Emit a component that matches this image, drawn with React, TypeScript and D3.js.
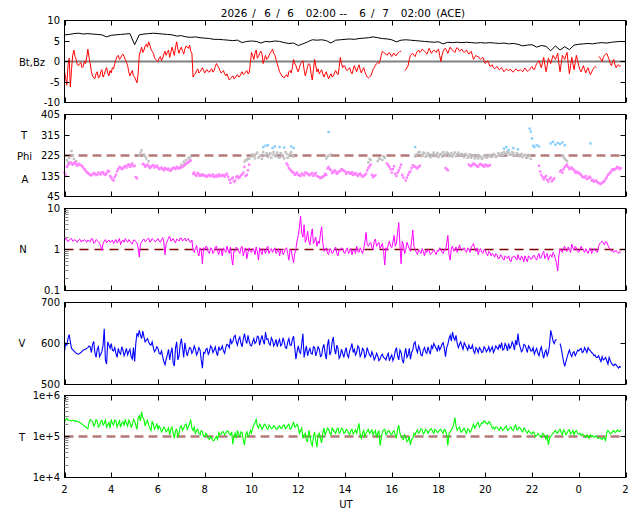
import React from "react";
import * as d3 from "d3";

// ---------- data ----------
const T_START = 2; // hours UT, 2026-06-06 02:00
const STEP = 0.1; // hours between samples of the main series
const BT_STEP = 0.2;

const HOUR_TICKS = [2, 4, 6, 8, 10, 12, 14, 16, 18, 20, 22, 24, 26];
const BZ_TICKS = [-10, -5, 0, 5, 10];
const PHI_TICKS = [45, 135, 225, 315, 405];
const N_TICKS = [0.1, 1, 10];
const V_TICKS = [500, 600, 700];
const T_TICKS = [1e4, 1e5, 1e6];
const T_TICK_LABELS = ["1e+4", "1e+5", "1e+6"];

const TITLE_PARTS: [string, number][] = [
  ["2026 ", 220.8], ["/ ", 252.3], ["6 ", 264.2], ["/ ", 276.3], ["6 ", 287.2],
  ["02:00 ", 305.8], ["-- ", 339.6], ["6 ", 359.2], ["/ ", 371.0], ["7 ", 382.2],
  ["02:00 ", 400.8], ["(ACE)", 436.2],
];

const BT = [
  6.5, 6.6, 6.8, 6.9, 6.7, 6.8, 6.7, 6.6, 6.5, 6.0,
  6.4, 6.5, 6.6, 6.7, 6.8, 4.1, 6.5, 6.7, 6.8, 6.9,
  6.8, 6.7, 6.6, 6.5, 6.2, 6.3, 6.0, 5.9, 6.0, 5.8,
  5.7, 5.6, 5.4, 5.4, 5.3, 5.2, 5.1, 5.2, 4.6, 4.9,
  5.0, 4.9, 4.5, 4.9, 4.8, 5.0, 4.9, 4.6, 4.4, 4.5,
  3.9, 4.3, 4.8, 5.3, 5.2, 5.3, 5.1, 4.5, 5.2, 5.3,
  5.4, 5.5, 5.4, 5.6, 5.7, 5.8, 6.0, 5.8, 5.6, 5.5,
  5.3, 4.8, 5.2, 5.3, 5.2, 5.1, 5.0, 4.9, 4.8, 4.7,
  4.8, 4.3, 4.7, 4.6, 4.7, 4.6, 4.7, 4.6, 4.5, 4.6,
  4.5, 4.6, 4.5, 4.4, 4.5, 4.3, 4.4, 4.2, 3.8, 4.0,
  4.1, 3.5, 3.9, 3.7, 2.6, 3.8, 2.8, 3.6, 2.9, 4.0,
  4.2, 4.3, 4.4, 4.3, 4.5, 4.6, 4.5, 4.7, 4.8, 4.9,
];

// Bz at 2.0, 2.1, ... and the in-between samples at 2.05, 2.15, ...
const BZ: (number | null)[] = [
  -2.5, -5.8, 0.8, -2, 2.8, 0.5, -1, -0.3, -1.2, -0.5,
  3, -0.5, -3.5, -4.2, -2.5, -3.8, -2, -3.2, -1.5, -3.5,
  -2.8, -1.8, 0.5, 1.5, 0.8, 1.8, 0.5, -1, -3.5, -2.2,
  -3.8, -5.2, 1.5, 3.5, 2.8, 4.2, 4.8, 3, 2, 0.5,
  0, 1.2, 0.8, 2.5, 2.2, 1, 3.5, 1.5, 4.8, 2,
  3.5, 1.8, 3.8, 3.2, 2.5, -3.8, -3, -1.8, -2.5, -1.5,
  -2.8, -2, -2.6, -1.8, -2.2, -0.5, -1.5, -2.8, -2.2, -3.5,
  -3.8, -4.2, -3.5, -4, -3.2, -3.6, -2.5, -3, -2.2, -2.8,
  2.2, 0.5, 2.8, 1.2, 2.5, -0.5, 1.5, 0.8, 2, 3,
  1.5, -0.5, -2.5, -3.5, -4, -3.2, -2.5, -2.8, 0.5, -1,
  -2.5, -0.5, 0.2, -3.5, -1.2, -0.8, -4.5, 0.5, -2.5, -3,
  -2, -3.8, -2.5, -4.2, -3, -3.5, -2.2, -3.2, 1, -1.5,
  -1.2, -2.2, -1.5, -3, -1, -2.5, -0.8, -2.8, -1.5, -3.2,
  -4, -3.5, -2, -1, -0.2, 0.2, 2.5, 2, 1.5, 2.2,
  1.2, 2, 1.5, 2.2, 2.5, null, -2, -1, 1.5, 2,
  1.2, 2.5, 2.2, 3, 2.5, 1.8, 3.2, 2, 2.8, 2.2,
  3, 0, 2.5, 3.2, 2, 3.5, 2.8, 2.2, 3.4, 2.5,
  3, 2.2, 2.8, 1.8, 2.5, 0.5, 1.5, 1.2, 0.5, 1,
  -0.5, 0.2, -1.2, -0.8, -1.8, -1.2, -2, -1.5, -2.5, -1.8,
  -2.2, -2, -2.6, -1.8, -2.3, -2, -2.5, -1.6, -2.4, -2,
  -1.2, -2, -0.5, 0.2, -1.5, 1, -2.5, 0.8, -0.5, 1.5,
  0.5, 2, -2.5, 1.5, 0.5, 2.2, -3, 1, -2, 1.5,
  -1, -2.5, -1, -2.8, -1.5, -3.2, -2, -1.2, null, 1,
  0, 1.5, 2, 0.5, -1, 0.5, -1.5, -0.8, -1,
];
const BZ_MID: (number | null)[] = [
  -4, -1, -6.2, 1.5, 1.2, -0.8, -0.5, -1.5, 0, 1,
  1, -2.5, -4, -3, -4, -2.5, -3.8, -2.2, -2.8, -2.2,
  -1.5, -0.5, 1.2, 0.5, 1.5, 1.2, -0.2, -2.5, -2.8, -3.5,
  -4.5, -3, 2.5, 2.2, 3.8, 3.5, 4, 2.5, 1, 0.2,
  0.8, 0.2, 1.8, 1.5, 2.8, 2.2, 2.5, 3.5, 3, 3,
  2.5, 3, 3.5, 4, 2, -3.2, -2.2, -2.8, -2, -2.2,
  -2.2, -2.5, -2, -2.6, -1.2, -1, -2.2, -2.5, -3, -3,
  -4.5, -3.8, -4.2, -3.5, -3.8, -3, -3.2, -2.5, -3, -0.5,
  1.5, 2, 0.8, 2, 1.8, 0.5, 0.5, 1.5, 2.5, 2,
  0.5, -1.5, -3, -3.8, -3.5, -3.8, -2.2, -1.5, -0.5, -2,
  -1.5, -0.2, -2, -2.5, -0.5, -3, -2, -1, -1.8, -2.5,
  -3, -3, -3.5, -3.5, -3.8, -2.8, -2.8, -1.5, -0.5, -1,
  -2, -1.8, -2.5, -2, -1.8, -1.5, -2, -2, -2.5, -3.8,
  -3.8, -2.8, -1.5, -0.5, -0.5, 1.5, 2.2, 1.8, 2, 1.6,
  1.8, 1.5, 2, 2.5, null, -2.2, -1.5, 0.5, 1.8, 1.5,
  2, 2.8, 2.5, 2.8, 2.2, 2.5, 2.6, 2.5, 2.5, 2.8,
  1.5, 1.5, 3, 2.6, 2.8, 3, 2.5, 3, 3, 2.8,
  2.5, 2.5, 2.2, 2.2, 1.5, 1, 1.2, 0.8, 0.8, 0.2,
  -0.2, -0.5, -1, -1.5, -1.5, -1.6, -1.8, -2, -2.2, -2,
  -2, -2.4, -2.2, -2, -2.2, -2.2, -2, -2, -2.2, -1.5,
  -1.8, -1.2, -0.2, -0.8, -0.2, -0.8, -1, 0.2, 0.5, 1,
  1.2, -0.5, -0.5, 1, 1.5, -0.5, -1, -0.5, -0.2, 0.2,
  -2, -1.8, -2, -2, -2.5, -2.6, -1.5, -1.5, 1.2, 0.5,
  1, 1.8, 1.2, -0.5, 0, -0.8, -1, -1.2,
];

const PHI_PINK: (number | null)[] = [
  150, 175, 188, 192, 190, 186, 189, 183, 172, 160,
  148, 140, 142, 145, 141, 146, 150, 143, 147, 155,
  128, 115, 140, 165, 172, 168, 178, 182, 175, 190,
  180, 125, null, null, 185, 180, 178, 175, 182, 176,
  172, 168, 165, 170, 163, 160, 166, 170, 175, 168,
  172, 180, 188, 195, 203, 145, 140, 148, 135, 142,
  138, 132, 140, 136, 130, 138, 142, 135, 138, 140,
  132, 105, 128, 115, 135, 130, 142, 175, 140, 185,
  null, null, null, null, null, null, null, null, null, null,
  null, null, null, null, null, 190, 170, 158, 150, 145,
  140, 135, 142, 150, 145, 138, 148, 142, 135, 130,
  128, 135, 140, 175, 160, 152, 155, 150, 158, 162,
  155, 150, 148, 152, 145, 140, 142, 138, 135, 145,
  170, 185, 130, 138, null, null, null, null, 190, 175,
  150, 178, 135, 160, 185, 128, 115, 140, 155, 182,
  175, 168, 180, null, null, null, null, null, null, null,
  null, null, null, 170, 160, null, null, null, null, null,
  null, null, null, 185, 178, 190, 182, 176, 188, 180,
  185, 178, 183, null, null, null, null, null, null, null,
  null, null, null, null, null, null, null, null, null, null,
  null, null, null, 180, 140, 120, 135, 110, 128, 118,
  null, null, 155, 150, 175, 185, 165, 172, 160, 155,
  150, 140, 130, 135, 125, 128, 118, 112, 108, 102,
  105, 112, 130, 145, 158, 162, 168, 172, 170,
];
const PHI_PINK_MID: (number | null)[] = [
  140, 182, 195, 185, 196, 180, 184, 178, 165, 152,
  144, 138, 148, 139, 150, 142, 152, 140, 158, 135,
  120, 130, 155, 175, 165, 175, 172, 186, 182, 178,
  130, null, null, 188, 176, 185, 170, 180, 172, 180,
  165, 172, 160, 166, 168, 158, 172, 165, 170, 174,
  176, 184, 192, 200, null, 150, 136, 142, 140, 136,
  134, 138, 134, 142, 134, 132, 136, 140, 132, 145,
  118, 122, 110, 130, 126, 138, 150, 135, 160, null,
  null, null, null, null, null, null, null, null, null, null,
  null, null, null, null, null, 182, 164, 152, 140, 150,
  138, 146, 138, 148, 140, 144, 136, 148, 132, 125,
  132, 145, 168, 165, 148, 160, 145, 155, 165, 158,
  145, 152, 144, 140, 148, 135, 146, 132, 140, 160,
  178, 140, 135, null, null, null, null, null, 182, 165,
  165, 145, 150, 172, 140, null, 128, 150, 170, 178,
  172, 175, null, null, null, null, null, null, null, null,
  null, null, null, 165, null, null, null, null, null, null,
  null, null, null, 180, 185, 186, 178, 184, 184, 176,
  182, 180, null, null, null, null, null, null, null, null,
  null, null, null, null, null, null, null, null, null, null,
  null, null, null, 155, 130, 128, 118, 122, 112, 125,
  null, null, 160, 165, 180, 175, 168, 165, 150, 148,
  145, 132, 128, 122, 132, 115, 110, 115, 104, 100,
  110, 122, 140, 150, 165, 165, 175, 165,
];

const PHI_GRAY: [number, number][] = [
  [2.1, 205], [2.15, 195], [2.2, 215], [2.3, 245], [2.35, 225], [2.4, 210], [2.5, 200],
  [5.2, 225], [5.25, 238], [5.3, 248], [5.4, 230], [5.45, 222], [5.5, 212], [5.6, 200],
  [7.0, 185], [7.1, 198], [7.15, 190], [7.2, 205], [7.3, 215], [7.35, 208], [7.4, 220],
  [9.7, 198], [9.75, 205], [9.8, 205], [9.85, 215], [9.9, 210],
  [10.0, 220], [10.05, 230], [10.1, 225], [10.15, 212], [10.2, 232], [10.25, 238],
  [10.3, 215], [10.35, 222], [10.4, 228], [10.45, 210], [10.5, 240], [10.55, 226],
  [10.6, 225], [10.65, 235], [10.7, 218], [10.75, 228], [10.8, 235], [10.85, 215],
  [10.9, 230], [10.95, 240], [11.0, 222], [11.05, 228], [11.1, 238], [11.15, 218],
  [11.2, 215], [11.25, 235], [11.3, 228], [11.35, 220], [11.4, 212], [11.45, 240],
  [11.5, 232], [11.55, 215], [11.6, 225], [11.65, 232], [11.7, 240], [11.75, 225], [11.8, 220],
  [13.2, 212], [13.25, 220], [13.3, 225], [13.4, 230],
  [15.0, 195], [15.05, 210], [15.1, 205], [15.4, 200], [15.45, 212], [15.5, 210],
  [15.6, 205], [15.65, 222], [15.7, 215],
  [17.0, 220], [17.05, 228], [17.1, 232], [17.15, 240], [17.2, 240], [17.25, 222],
  [17.3, 228], [17.35, 238], [17.4, 235], [17.45, 220], [17.5, 225], [17.55, 236],
  [17.6, 230], [17.65, 218], [17.7, 222], [17.75, 230], [17.8, 238], [17.85, 222],
  [17.9, 228], [17.95, 236], [18.0, 218], [18.05, 228], [18.1, 232], [18.15, 220],
  [18.2, 240], [18.25, 230], [18.3, 225], [18.35, 238], [18.4, 235], [18.45, 222],
  [18.5, 228], [18.55, 236], [18.6, 220], [18.65, 230], [18.7, 238], [18.75, 222],
  [18.8, 230], [18.85, 238], [18.9, 225], [18.95, 230], [19.0, 232], [19.05, 222],
  [19.1, 218], [19.15, 232], [19.2, 228], [19.25, 215], [19.3, 222], [19.35, 230],
  [19.4, 215], [19.45, 225], [19.5, 225], [19.55, 212], [19.6, 218], [19.65, 228],
  [19.7, 212], [19.75, 222], [19.8, 220], [19.85, 210], [19.9, 215], [19.95, 226],
  [20.0, 222], [20.05, 215], [20.1, 218], [20.15, 228], [20.2, 225], [20.25, 218],
  [20.3, 220], [20.35, 232], [20.4, 228], [20.45, 218], [20.5, 222], [20.55, 235],
  [20.6, 230], [20.65, 225], [20.7, 235], [20.75, 228], [20.8, 240], [20.85, 232],
  [20.9, 232], [20.95, 242], [21.0, 238], [21.05, 230], [21.1, 228], [21.15, 240],
  [21.2, 235], [21.25, 226], [21.3, 225], [21.35, 235], [21.4, 230], [21.45, 222],
  [21.5, 222], [21.55, 232], [21.6, 218], [21.65, 225], [21.7, 228], [21.75, 215],
  [21.8, 215], [21.85, 228], [21.9, 225], [21.95, 210],
  [23.3, 225], [23.35, 218], [23.4, 212], [23.45, 205], [23.5, 200],
];

const PHI_BLUE: [number, number][] = [
  [10.5, 262], [10.6, 268], [10.7, 270], [10.9, 258], [11.0, 265], [11.2, 262],
  [11.4, 260], [11.7, 265], [11.8, 258],
  [13.3, 328], [17.0, 262],
  [20.8, 255], [20.9, 262], [21.0, 250], [21.2, 258], [21.4, 252],
  [21.9, 343], [21.95, 330], [22.0, 300], [22.05, 268], [22.1, 262], [22.2, 270], [22.3, 265],
  [22.8, 278], [22.9, 285], [23.0, 272], [23.1, 280], [23.2, 275], [23.3, 282], [23.4, 270],
  [24.5, 278],
];

const DENS = [
  1.6, 1.75, 1.7, 1.85, 1.65, 1.6, 1.7, 1.55, 1.6, 1.65,
  1.7, 1.55, 1.8, 1.5, 1.65, 1.4, 0.95, 1.6, 1.45, 1.7,
  1.55, 1.4, 1.75, 1.6, 1.3, 1.7, 1.85, 1.5, 1.6, 1.35,
  1.7, 1.45, 0.65, 1.5, 1.8, 1.65, 1.9, 1.6, 1.75, 1.55,
  1.85, 1.5, 1.95, 0.75, 1.6, 2.1, 1.7, 1.55, 1.8, 1.6,
  1.9, 1.75, 1.6, 1.85, 1.5, 0.95, 1.05, 0.85, 1.1, 0.45,
  1.0, 1.15, 0.8, 1.05, 0.9, 1.2, 0.75, 1.0, 1.1, 0.85,
  0.95, 1.15, 0.42, 0.9, 1.05, 0.8, 1.2, 0.95, 0.6, 1.1,
  0.85, 1.0, 1.15, 0.55, 0.9, 1.05, 0.8, 1.2, 0.95, 0.85,
  1.1, 0.9, 0.7, 1.0, 0.85, 1.1, 0.55, 0.95, 0.48, 1.05,
  2.2, 6.5, 2.0, 1.5, 2.8, 1.3, 3.2, 1.6, 1.2, 1.4,
  3.6, 0.9, 1.1, 0.75, 1.0, 0.85, 1.15, 0.7, 0.95, 1.05,
  0.8, 1.1, 0.9, 0.75, 1.0, 1.2, 0.85, 0.95, 1.05, 2.6,
  1.2, 1.5, 1.0, 1.8, 1.35, 1.05, 1.4, 0.42, 0.95, 1.6,
  1.1, 2.2, 1.4, 4.5, 0.45, 1.3, 1.0, 1.25, 0.9, 3.0,
  1.0, 0.75, 0.9, 1.05, 0.7, 0.85, 0.95, 0.8, 1.0, 0.75,
  0.9, 1.05, 0.8, 0.95, 2.2, 0.55, 1.2, 1.0, 0.85, 1.3,
  0.95, 1.1, 0.85, 1.0, 1.15, 1.4, 0.9, 0.75, 1.05, 0.8,
  0.95, 0.7, 0.85, 0.8, 0.65, 0.75, 0.6, 0.7, 0.55, 0.65,
  0.7, 0.5, 0.65, 0.6, 0.75, 0.55, 0.62, 0.7, 0.5, 0.65,
  0.6, 0.72, 0.55, 0.8, 0.65, 0.9, 0.7, 0.55, 0.75, 0.85,
  0.6, 0.3, 1.05, 0.85, 1.2, 0.9, 1.0, 1.35, 0.95, 1.1,
  0.85, 1.2, 0.95, 1.05, 0.8, 1.1, 0.9, 1.0, 0.85, 1.4,
  1.6, 1.3, 1.5, 1.1, 0.9, 0.85, 0.95, 0.8, 0.85,
];
const DENS_MID = [
  1.9, 1.55, 1.8, 1.6, 1.75, 1.5, 1.8, 1.65, 1.75, 1.5,
  1.6, 1.85, 1.4, 1.75, 1.55, 1.2, 1.4, 1.75, 1.6, 1.5,
  1.7, 1.6, 1.45, 1.85, 1.6, 1.5, 1.65, 1.75, 1.45, 1.7,
  1.55, 1.1, 1.4, 1.7, 1.55, 1.8, 1.5, 1.85, 1.6, 1.7,
  1.6, 1.75, 1.5, 1.4, 1.9, 1.6, 1.85, 1.45, 1.7, 1.9,
  1.6, 1.9, 1.7, 1.55, 1.7, 0.85, 1.25, 0.7, 0.95, 1.1,
  1.2, 0.85, 1.1, 0.8, 1.15, 0.9, 1.05, 0.7, 0.95, 1.2,
  0.8, 0.6, 0.95, 1.15, 0.9, 1.1, 0.7, 1.1, 0.85, 0.9,
  1.05, 0.75, 0.9, 1.1, 0.75, 0.95, 1.1, 0.8, 1.05, 1.0,
  0.8, 1.05, 0.95, 0.75, 1.05, 0.8, 1.0, 0.65, 0.8, 1.6,
  3.5, 2.5, 4.0, 1.8, 1.6, 2.2, 1.4, 2.0, 1.6, 2.4,
  1.5, 1.0, 0.8, 1.05, 0.8, 1.05, 0.8, 1.0, 1.1, 0.85,
  1.0, 0.8, 1.05, 0.95, 0.8, 0.9, 1.1, 0.8, 1.5, 1.3,
  1.4, 1.1, 1.6, 1.2, 1.5, 1.2, 0.9, 1.1, 1.3, 1.2,
  1.5, 1.2, 2.6, 1.3, 1.6, 0.8, 1.5, 1.05, 1.6, 1.2,
  0.85, 1.0, 0.8, 0.9, 0.95, 1.0, 0.75, 0.9, 0.85, 0.95,
  1.1, 0.85, 1.0, 1.4, 0.75, 1.1, 0.9, 1.15, 1.05, 1.0,
  1.05, 0.9, 1.1, 0.85, 1.25, 1.0, 1.1, 0.95, 0.85, 1.0,
  0.8, 0.9, 0.7, 0.75, 0.8, 0.6, 0.75, 0.6, 0.7, 0.6,
  0.55, 0.65, 0.7, 0.55, 0.6, 0.7, 0.5, 0.6, 0.7, 0.58,
  0.7, 0.6, 0.7, 0.6, 0.8, 0.6, 0.8, 0.7, 0.65, 0.75,
  0.45, 0.7, 0.9, 1.1, 0.95, 1.15, 0.85, 1.1, 1.2, 0.9,
  1.0, 1.05, 0.85, 0.9, 1.0, 0.8, 1.05, 0.9, 1.2, 1.5,
  1.45, 1.55, 1.25, 1.0, 0.95, 0.9, 0.85, 0.9,
];

const SPEED: (number | null)[] = [
  580, 596, 622, 588, 582, 576, 574, 578, 584, 586,
  590, 592, 598, 578, 586, 568, 580, 636, 550, 596,
  600, 582, 576, 588, 574, 584, 578, 572, 586, 562,
  556, 625, 632, 612, 616, 608, 604, 596, 590, 584,
  588, 574, 568, 548, 572, 560, 590, 545, 604, 570,
  612, 566, 584, 580, 588, 582, 586, 578, 584, 540,
  576, 588, 580, 590, 584, 578, 592, 586, 582, 590,
  596, 612, 604, 620, 596, 616, 592, 624, 600, 606,
  594, 612, 604, 616, 610, 606, 628, 612, 596, 608,
  600, 592, 610, 598, 604, 588, 612, 596, 618, 562,
  594, 576, 624, 582, 570, 588, 574, 590, 580, 586,
  570, 598, 562, 610, 580, 616, 574, 588, 570, 576,
  580, 572, 582, 600, 586, 578, 590, 574, 584, 572,
  580, 568, 572, 566, 570, 562, 574, 564, 570, 558,
  572, 566, 590, 560, 578, 552, 588, 572, 562, 584,
  604, 578, 586, 570, 590, 576, 582, 594, 600, 588,
  596, 590, 602, 568, 598, 620, 628, 608, 600, 598,
  594, 602, 590, 596, 588, 582, 590, 578, 586, 580,
  588, 584, 580, 592, 584, 590, 596, 602, 586, 594,
  600, 592, 598, 608, 624, 590, 584, 596, 578, 590,
  582, 574, 588, 570, 592, 564, 584, 578, 632, 606,
  608, null, 600, 572, 544, 566, 584, 568, 580, 576,
  582, 588, 580, 584, 590, 582, 576, 572, 566, 562,
  568, 562, 558, 566, 552, 546, 548, 540, 542,
];
const SPEED_MID: (number | null)[] = [
  600, 612, 604, 585, 579, 575, 576, 581, 585, 588,
  594, 578, 605, 566, 592, 574, 596, 560, 604, 588,
  584, 590, 566, 578, 592, 570, 588, 580, 568, 590,
  600, 618, 620, 630, 604, 612, 598, 604, 580, 592,
  576, 582, 556, 562, 586, 578, 552, 590, 560, 598,
  590, 602, 570, 590, 576, 594, 572, 590, 560, 578,
  586, 574, 594, 578, 592, 570, 584, 594, 576, 598,
  590, 600, 616, 604, 610, 600, 612, 608, 620, 596,
  604, 600, 618, 596, 620, 598, 610, 600, 614, 594,
  610, 604, 594, 614, 590, 604, 596, 610, 590, 580,
  580, 600, 566, 594, 582, 576, 592, 570, 592, 568,
  590, 576, 596, 572, 604, 586, 596, 564, 586, 566,
  590, 566, 590, 578, 572, 594, 568, 588, 566, 590,
  572, 580, 560, 576, 558, 570, 566, 560, 576, 566,
  558, 582, 570, 584, 560, 574, 566, 588, 578, 600,
  586, 594, 572, 584, 580, 592, 574, 588, 594, 582,
  584, 598, 588, 590, 612, 606, 614, 620, 590, 604,
  586, 596, 584, 588, 596, 576, 586, 590, 578, 592,
  580, 592, 586, 578, 594, 586, 590, 584, 600, 582,
  588, 604, 584, 596, 600, 580, 598, 588, 594, 582,
  590, 582, 576, 584, 576, 578, 570, 596, 620, 600,
  610, null, 588, 556, 556, 576, 574, 578, 570, 584,
  586, 578, 590, 578, 584, 578, 570, 566, 570, 556,
  560, 566, 550, 558, 548, 550, 544, 544,
];

const TEMP = [
  2.2e5, 2.8e5, 2.5e5, 2.4e5, 2.5e5, 2.4e5, 2.3e5, 2.1e5, 1.9e5, 1.7e5,
  1.55e5, 2.6e5, 2.3e5, 2.0e5, 2.4e5, 1.8e5, 2.5e5, 2.1e5, 1.7e5, 2.2e5,
  2.6e5, 1.9e5, 2.4e5, 2.0e5, 1.7e5, 2.3e5, 2.6e5, 1.8e5, 2.2e5, 1.9e5,
  2.4e5, 1.5e5, 3.2e5, 4.0e5, 2.6e5, 2.2e5, 1.9e5, 1.4e5, 2.0e5, 1.7e5,
  1.5e5, 1.6e5, 1.45e5, 1.55e5, 1.4e5, 1.1e5, 1.7e5, 0.9e5, 1.5e5, 1.2e5,
  1.8e5, 1.6e5, 2.0e5, 1.7e5, 2.5e5, 1.4e5, 1.2e5, 1.5e5, 1.1e5, 1.3e5,
  1.0e5, 1.1e5, 0.85e5, 0.9e5, 0.8e5, 1.0e5, 1.25e5, 1.15e5, 1.3e5, 1.2e5,
  1.35e5, 1.1e5, 0.65e5, 1.2e5, 1.4e5, 1.0e5, 1.25e5, 0.62e5, 1.3e5, 1.1e5,
  1.2e5, 1.9e5, 2.6e5, 1.6e5, 1.8e5, 1.7e5, 1.9e5, 1.5e5, 1.75e5, 1.6e5,
  1.7e5, 1.5e5, 1.8e5, 1.6e5, 1.9e5, 1.7e5, 2.0e5, 1.6e5, 2.2e5, 1.8e5,
  1.7e5, 1.4e5, 0.9e5, 1.2e5, 0.75e5, 1.1e5, 0.6e5, 1.3e5, 0.55e5, 1.2e5,
  0.7e5, 1.6e5, 1.3e5, 1.5e5, 1.1e5, 1.45e5, 1.2e5, 1.6e5, 1.3e5, 1.5e5,
  1.25e5, 1.4e5, 1.1e5, 1.5e5, 1.3e5, 1.2e5, 2.1e5, 0.9e5, 1.4e5, 1.2e5,
  1.5e5, 1.3e5, 1.1e5, 1.4e5, 1.2e5, 0.6e5, 1.3e5, 1.5e5, 1.2e5, 1.35e5,
  1.1e5, 1.4e5, 0.9e5, 1.9e5, 1.0e5, 0.85e5, 0.95e5, 0.8e5, 0.62e5, 0.9e5,
  1.1e5, 1.45e5, 1.3e5, 1.5e5, 1.25e5, 1.4e5, 1.35e5, 1.55e5, 1.2e5, 1.4e5,
  1.3e5, 1.5e5, 1.2e5, 1.4e5, 0.6e5, 1.3e5, 1.6e5, 2.9e5, 1.4e5, 1.7e5,
  1.3e5, 1.6e5, 1.2e5, 1.5e5, 1.4e5, 2.0e5, 1.8e5, 2.2e5, 1.9e5, 2.1e5,
  2.3e5, 2.0e5, 2.2e5, 1.6e5, 1.5e5, 1.7e5, 1.4e5, 1.6e5, 1.5e5, 1.8e5,
  1.5e5, 1.7e5, 1.4e5, 1.9e5, 1.5e5, 1.6e5, 1.3e5, 1.5e5, 1.2e5, 1.3e5,
  1.15e5, 1.2e5, 1.05e5, 1.1e5, 0.95e5, 1.15e5, 0.85e5, 0.62e5, 1.0e5, 1.2e5,
  1.4e5, 1.2e5, 1.5e5, 1.1e5, 1.35e5, 1.2e5, 1.45e5, 1.25e5, 1.1e5, 1.4e5,
  1.15e5, 1.05e5, 1.1e5, 0.95e5, 1.0e5, 1.1e5, 1.05e5, 0.98e5, 0.92e5, 0.95e5,
  0.85e5, 0.9e5, 1.25e5, 1.3e5, 1.2e5, 1.4e5, 1.3e5, 1.35e5, 1.45e5,
];
const TEMP_MID = [
  2.6e5, 2.5e5, 2.45e5, 2.5e5, 2.35e5, 2.35e5, 2.2e5, 2.0e5, 1.8e5, 1.6e5,
  2.2e5, 2.4e5, 1.8e5, 2.6e5, 1.7e5, 2.3e5, 1.9e5, 2.5e5, 1.9e5, 1.6e5,
  2.1e5, 2.5e5, 1.7e5, 2.4e5, 2.1e5, 1.9e5, 2.1e5, 2.5e5, 1.7e5, 2.6e5,
  1.9e5, 2.8e5, 2.4e5, 2.9e5, 1.8e5, 2.5e5, 1.6e5, 2.3e5, 1.5e5, 2.1e5,
  1.8e5, 1.3e5, 1.7e5, 1.3e5, 1.6e5, 1.5e5, 1.2e5, 1.4e5, 1.0e5, 1.7e5,
  1.4e5, 1.9e5, 1.5e5, 2.1e5, 1.6e5, 1.7e5, 1.4e5, 1.2e5, 1.4e5, 1.0e5,
  1.2e5, 0.9e5, 1.0e5, 0.8e5, 0.9e5, 0.85e5, 1.1e5, 1.3e5, 1.1e5, 1.35e5,
  1.15e5, 1.3e5, 1.0e5, 0.9e5, 1.15e5, 1.3e5, 0.8e5, 1.1e5, 1.0e5, 1.4e5,
  1.6e5, 2.2e5, 1.8e5, 2.0e5, 1.5e5, 2.0e5, 1.6e5, 1.9e5, 1.55e5, 1.85e5,
  1.55e5, 1.75e5, 1.6e5, 1.85e5, 1.55e5, 1.85e5, 1.5e5, 1.9e5, 1.7e5, 2.0e5,
  1.2e5, 1.6e5, 1.1e5, 0.8e5, 1.4e5, 0.7e5, 1.0e5, 0.8e5, 1.1e5, 0.9e5,
  1.2e5, 1.1e5, 1.6e5, 1.2e5, 1.6e5, 1.3e5, 1.5e5, 1.2e5, 1.6e5, 1.2e5,
  1.5e5, 1.2e5, 1.4e5, 1.15e5, 1.45e5, 1.6e5, 1.1e5, 1.2e5, 1.0e5, 1.4e5,
  1.2e5, 1.45e5, 1.25e5, 0.95e5, 1.4e5, 0.9e5, 1.45e5, 1.1e5, 1.4e5, 1.15e5,
  1.3e5, 1.1e5, 1.5e5, 1.2e5, 0.9e5, 1.1e5, 0.75e5, 1.0e5, 0.85e5, 1.2e5,
  1.3e5, 1.2e5, 1.55e5, 1.15e5, 1.5e5, 1.2e5, 1.5e5, 1.3e5, 1.5e5, 1.25e5,
  1.45e5, 1.3e5, 1.5e5, 1.1e5, 1.2e5, 1.45e5, 2.0e5, 1.8e5, 1.6e5, 1.3e5,
  1.5e5, 1.35e5, 1.55e5, 1.25e5, 1.7e5, 1.6e5, 2.1e5, 1.7e5, 2.2e5, 2.4e5,
  2.1e5, 2.3e5, 1.9e5, 1.7e5, 1.7e5, 1.5e5, 1.7e5, 1.4e5, 1.7e5, 1.4e5,
  1.6e5, 1.45e5, 1.75e5, 1.45e5, 1.7e5, 1.4e5, 1.6e5, 1.3e5, 1.4e5, 1.2e5,
  1.3e5, 1.0e5, 1.2e5, 1.0e5, 1.2e5, 1.0e5, 1.1e5, 0.9e5, 1.1e5, 1.3e5,
  1.25e5, 1.4e5, 1.25e5, 1.45e5, 1.1e5, 1.4e5, 1.15e5, 1.4e5, 1.3e5, 1.2e5,
  1.2e5, 1.15e5, 1.0e5, 1.1e5, 0.9e5, 1.0e5, 0.95e5, 1.05e5, 0.9e5, 0.88e5,
  0.95e5, 0.8e5, 1.4e5, 1.15e5, 1.35e5, 1.25e5, 1.45e5, 1.3e5,
];

// ---------- helpers ----------
type Pt = { t: number; v: number | null };
const toPts = (arr: (number | null)[], step: number, offset = 0): Pt[] =>
  arr.map((v, i) => ({ t: +(T_START + offset + i * step).toFixed(3), v }));
const interleave = (main: (number | null)[], mid: (number | null)[]): Pt[] => {
  const a = toPts(main, STEP);
  const b = toPts(mid, STEP, STEP / 2);
  const out: Pt[] = [];
  a.forEach((p, i) => {
    out.push(p);
    if (i < b.length) out.push(b[i]);
  });
  return out;
};

const FONT = "DejaVu Sans";

export default function App() {
  const X0 = 64.5;
  const X1 = 625.5;
  const PH = 82;
  const tops = [20.5, 114.5, 208.5, 302.5, 395.5];
  const TICK = 5;

  const x = d3.scaleLinear().domain([2, 26]).range([X0, X1]);
  const yB = d3.scaleLinear().domain([-10, 10]).range([tops[0] + PH, tops[0]]);
  const yP = d3.scaleLinear().domain([45, 405]).range([tops[1] + PH, tops[1]]);
  const yN = d3.scaleLog().domain([0.1, 10]).range([tops[2] + PH, tops[2]]);
  const yV = d3.scaleLinear().domain([500, 700]).range([tops[3] + PH, tops[3]]);
  const yT = d3.scaleLog().domain([1e4, 1e6]).range([tops[4] + PH, tops[4]]);

  const mkLine = (y: (v: number) => number) =>
    d3
      .line<Pt>()
      .defined((d) => d.v != null)
      .x((d) => x(d.t))
      .y((d) => y(d.v as number));

  const btPath = mkLine(yB)(toPts(BT, BT_STEP)) || "";
  const bzPath = mkLine(yB)(interleave(BZ, BZ_MID)) || "";
  const nPath = mkLine(yN)(interleave(DENS, DENS_MID)) || "";
  const vPath = mkLine(yV)(interleave(SPEED, SPEED_MID)) || "";
  const tPath = mkLine(yT)(interleave(TEMP, TEMP_MID)) || "";
  const pinkPts = interleave(PHI_PINK, PHI_PINK_MID).filter((d) => d.v != null);

  const minorN: number[] = [];
  const minorT: number[] = [];
  [0.1, 1].forEach((dec) => {
    for (let k = 2; k <= 9; k++) minorN.push(dec * k);
  });
  [1e4, 1e5].forEach((dec) => {
    for (let k = 2; k <= 9; k++) minorT.push(dec * k);
  });

  const frame = (top: number, key: string) => (
    <g key={key}>
      <rect x={X0} y={top} width={X1 - X0} height={PH} fill="none" stroke="#000" strokeWidth={1} />
      {HOUR_TICKS.map((h) => (
        <g key={h}>
          <line x1={Math.round(x(h)) + 0.5} x2={Math.round(x(h)) + 0.5} y1={top} y2={top + TICK} stroke="#000" />
          <line x1={Math.round(x(h)) + 0.5} x2={Math.round(x(h)) + 0.5} y1={top + PH} y2={top + PH - TICK} stroke="#000" />
        </g>
      ))}
    </g>
  );

  const yTicks = (
    vals: number[],
    scale: (v: number) => number,
    labels: string[],
    key: string
  ) => (
    <g key={key}>
      {vals.map((v, i) => {
        const yy = Math.round(scale(v) - 0.5) + 0.5;
        return (
          <g key={i}>
            <line x1={X0} x2={X0 + TICK} y1={yy} y2={yy} stroke="#000" />
            <line x1={X1} x2={X1 - TICK} y1={yy} y2={yy} stroke="#000" />
            <text x={60} y={scale(v) + 3.6} textAnchor="end" fontFamily={FONT} fontSize={10} fill="#000">
              {labels[i]}
            </text>
          </g>
        );
      })}
    </g>
  );

  const minorTicks = (vals: number[], scale: (v: number) => number, key: string) => (
    <g key={key}>
      {vals.map((v, i) => {
        const yy = Math.round(scale(v) - 0.5) + 0.5;
        return <line key={i} x1={X0} x2={X0 + 4} y1={yy} y2={yy} stroke="#888" strokeWidth={1} />;
      })}
    </g>
  );

  const sideLabel = (text: string, cx: number, cy: number, key: string) => (
    <text key={key} x={cx} y={cy + 3.6} textAnchor="middle" fontFamily={FONT} fontSize={10} fill="#000">
      {text}
    </text>
  );

  const DOT = 2.4;

  return (
    <svg
      width={640}
      height={512}
      viewBox="0 0 640 512"
      style={{ position: "absolute", left: 0, top: 0, background: "#fff" }}
    >
      <rect x={0} y={0} width={640} height={512} fill="#fff" />
      <text y={16.5} fontFamily={FONT} fontSize={10.4} fill="#000">
        {TITLE_PARTS.map(([s, px], i) => (
          <tspan key={i} x={px}>
            {s}
          </tspan>
        ))}
      </text>

      {/* Panel 1: Bt, Bz */}
      <line x1={X0} x2={X1} y1={yB(0)} y2={yB(0)} stroke="#808080" strokeWidth={2} />
      <path d={btPath} fill="none" stroke="#000" strokeWidth={1} />
      <path d={bzPath} fill="none" stroke="#ff0000" strokeWidth={1} />
      {frame(tops[0], "f0")}
      {yTicks(BZ_TICKS, yB, BZ_TICKS.map((v) => String(v)), "t0")}
      {sideLabel("Bt,Bz", 32, 62, "l0")}

      {/* Panel 2: Phi */}
      <line x1={X0} x2={X1} y1={yP(225)} y2={yP(225)} stroke="#b47a7a" strokeWidth={2.5} strokeDasharray="9,5" />
      {PHI_GRAY.map(([t, v], i) => (
        <rect key={"g" + i} x={x(t) - DOT / 2} y={yP(v) - DOT / 2} width={DOT} height={DOT} fill="#c0c0c0" />
      ))}
      {pinkPts.map((d, i) => (
        <rect key={"p" + i} x={x(d.t) - DOT / 2} y={yP(d.v as number) - DOT / 2} width={DOT} height={DOT} fill="#ff80ff" />
      ))}
      {PHI_BLUE.map(([t, v], i) => (
        <rect key={"b" + i} x={x(t) - DOT / 2} y={yP(v) - DOT / 2} width={DOT} height={DOT} fill="#87cefa" />
      ))}
      {frame(tops[1], "f1")}
      {yTicks(PHI_TICKS, yP, PHI_TICKS.map((v) => String(v)), "t1")}
      {sideLabel("T", 24, 135, "l1a")}
      {sideLabel("Phi", 24.5, 156.5, "l1b")}
      {sideLabel("A", 25, 179, "l1c")}

      {/* Panel 3: N */}
      <line x1={X0} x2={X1} y1={yN(1)} y2={yN(1)} stroke="#800000" strokeWidth={1.5} strokeDasharray="9,6" />
      <path d={nPath} fill="none" stroke="#ff00ff" strokeWidth={1} />
      {frame(tops[2], "f2")}
      {minorTicks(minorN, yN, "m2")}
      {yTicks(N_TICKS, yN, ["0.1", "1", "10"], "t2")}
      {sideLabel("N", 23, 249.5, "l2")}

      {/* Panel 4: V */}
      <path d={vPath} fill="none" stroke="#0000ff" strokeWidth={1.1} />
      {frame(tops[3], "f3")}
      {yTicks(V_TICKS, yV, V_TICKS.map((v) => String(v)), "t3")}
      {sideLabel("V", 22, 343.5, "l3")}

      {/* Panel 5: T */}
      <line x1={X0} x2={X1} y1={yT(1e5)} y2={yT(1e5)} stroke="#b47a7a" strokeWidth={2.5} strokeDasharray="9,5" />
      <path d={tPath} fill="none" stroke="#00ff00" strokeWidth={1.1} />
      {frame(tops[4], "f4")}
      {minorTicks(minorT, yT, "m4")}
      {yTicks(T_TICKS, yT, T_TICK_LABELS, "t4")}
      {sideLabel("T", 22, 437, "l4")}

      {/* bottom axis labels */}
      {HOUR_TICKS.map((h) => (
        <text key={"h" + h} x={x(h)} y={493} textAnchor="middle" fontFamily={FONT} fontSize={10} fill="#000">
          {String(h % 24)}
        </text>
      ))}
      <text x={346} y={508} textAnchor="middle" fontFamily={FONT} fontSize={10} fill="#000">
        UT
      </text>
    </svg>
  );
}
